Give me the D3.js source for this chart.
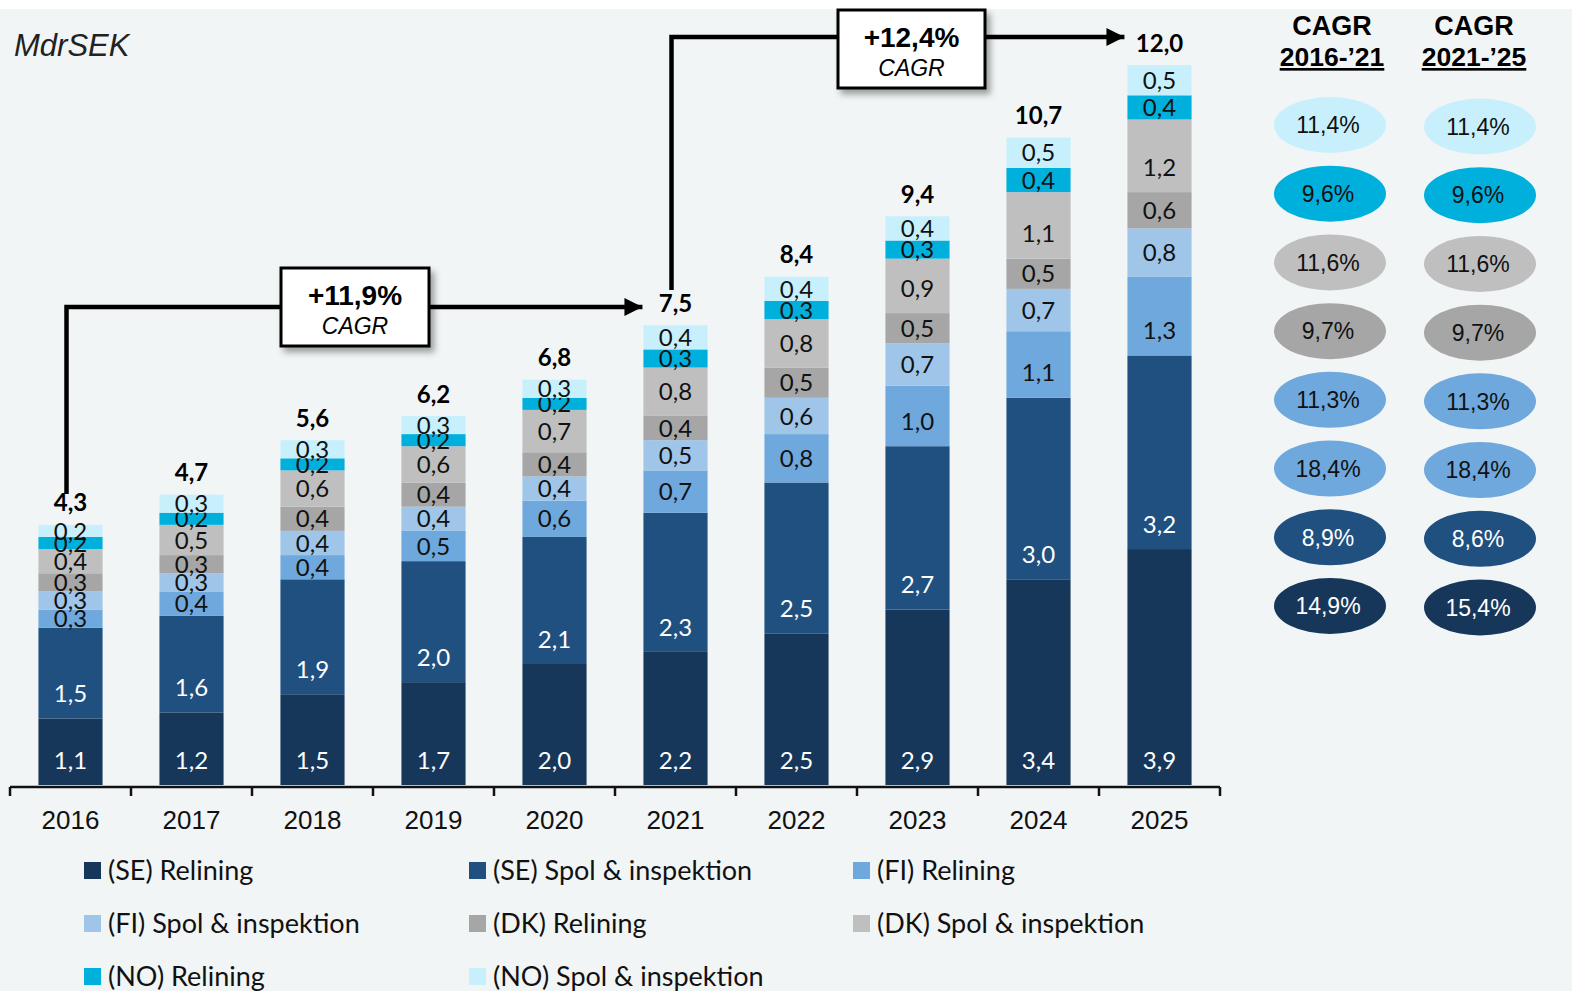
<!DOCTYPE html>
<html>
<head>
<meta charset="utf-8">
<script src="https://cdn.jsdelivr.net/npm/d3@7"></script>
<style>
  body{margin:0;background:#fff;}
  svg{display:block;}
</style>
</head>
<body>
<svg id="chart" width="1572" height="991"></svg>
<script>
// data
let years = ["2016","2017","2018","2019","2020","2021","2022","2023","2024","2025"];
let seriesNames = ["(SE) Relining","(SE) Spol & inspektion","(FI) Relining","(FI) Spol & inspektion",
    "(DK) Relining","(DK) Spol & inspektion","(NO) Relining","(NO) Spol & inspektion"];
let seRelining = [1.1,1.2,1.5,1.7,2.0,2.2,2.5,2.9,3.4,3.9];
let seSpol     = [1.5,1.6,1.9,2.0,2.1,2.3,2.5,2.7,3.0,3.2];
let fiRelining = [0.3,0.4,0.4,0.5,0.6,0.7,0.8,1.0,1.1,1.3];
let fiSpol     = [0.3,0.3,0.4,0.4,0.4,0.5,0.6,0.7,0.7,0.8];
let dkRelining = [0.3,0.3,0.4,0.4,0.4,0.4,0.5,0.5,0.5,0.6];
let dkSpol     = [0.4,0.5,0.6,0.6,0.7,0.8,0.8,0.9,1.1,1.2];
let noRelining = [0.2,0.2,0.2,0.2,0.2,0.3,0.3,0.3,0.4,0.4];
let noSpol     = [0.2,0.3,0.3,0.3,0.3,0.4,0.4,0.4,0.5,0.5];
let totals     = [4.3,4.7,5.6,6.2,6.8,7.5,8.4,9.4,10.7,12.0];
// CAGR bubbles, top to bottom (NO Spol ... SE Relining)
let cagr1621 = ["11,4%","9,6%","11,6%","9,7%","11,3%","18,4%","8,9%","14,9%"];
let cagr2125 = ["11,4%","9,6%","11,6%","9,7%","11,3%","18,4%","8,6%","15,4%"];
let bubbleColors = ["#c8f0fc","#00b0dc","#bfbfbf","#a6a6a6","#6fa8dc","#6fa8dc","#1f5080","#17375a"];
let arrows = [{from:"2016",to:"2021",label:"+11,9%"},{from:"2021",to:"2025",label:"+12,4%"}];

let colors = ["#17375a","#1f5080","#6fa8dc","#9fc5e8","#a6a6a6","#bfbfbf","#00b0dc","#c8f0fc"];
let allSeries = [seRelining,seSpol,fiRelining,fiSpol,dkRelining,dkSpol,noRelining,noSpol];
let fmt = v => v.toFixed(1).replace(".",",");
let arial = "'Liberation Sans', Arial, sans-serif";

let svg = d3.select("#chart");
svg.append("rect").attr("x",0).attr("y",9).attr("width",1572).attr("height",982).attr("fill","#f1f5f6");

let defs = svg.append("defs");
defs.append("filter").attr("id","shadow").attr("x","-20%").attr("y","-20%").attr("width","150%").attr("height","160%")
    .append("feDropShadow").attr("dx",4).attr("dy",5).attr("stdDeviation",3).attr("flood-color","#000").attr("flood-opacity",0.35);
defs.append("marker").attr("id","arrow").attr("viewBox","0 0 10 10").attr("refX",10).attr("refY",5)
    .attr("markerWidth",4).attr("markerHeight",4).attr("markerUnits","strokeWidth").attr("orient","auto")
    .append("path").attr("d","M0,0L10,5L0,10z").attr("fill","#000");

let x = d3.scaleBand().domain(years).range([10,1220]).paddingInner(0.47).paddingOuter(0.235);
let y = d3.scaleLinear().domain([0,12]).range([785,59]);

let table = years.map((yr,i)=>{
    let row = {year:yr};
    seriesNames.forEach((s,k)=>row[s]=allSeries[k][i]);
    return row;
});
let stacked = d3.stack().keys(seriesNames)(table);

let g = svg.append("g");
let layer = g.selectAll(".layer").data(stacked).enter().append("g")
    .attr("class","layer").attr("fill",(d,i)=>colors[i]);
layer.selectAll("rect").data(d=>d).enter().append("rect")
    .attr("x",d=>x(d.data.year))
    .attr("y",d=>y(d[1]))
    .attr("width",x.bandwidth())
    .attr("height",d=>y(d[0])-y(d[1]));
// labels sit near the base of each segment (centered when segment is small)
layer.selectAll("text").data(d=>d).enter().append("text")
    .attr("x",d=>x(d.data.year)+x.bandwidth()/2)
    .attr("y",d=>y(d[0]) - Math.min(25,(y(d[0])-y(d[1]))/2))
    .attr("dy","0.36em")
    .attr("text-anchor","middle")
    .style("font-family","Lato, sans-serif")
    .style("font-size","24px")
    .attr("fill",function(){ return this.parentNode.__data__.index < 2 ? "#fff" : "#111"; })
    .text(d=>fmt(d[1]-d[0]));

// totals
let topStack = stacked[stacked.length-1];
g.selectAll(".total").data(topStack).enter().append("text")
    .attr("class","total")
    .attr("x",d=>x(d.data.year)+x.bandwidth()/2)
    .attr("y",d=>y(d[1])-22)
    .attr("dy","0.36em")
    .attr("text-anchor","middle")
    .style("font-family","Lato, sans-serif")
    .style("font-size","24px")
    .style("font-weight","bold")
    .text((d,i)=>fmt(totals[i]));

// axis
let axis = d3.axisBottom(x).tickSize(0).tickPadding(24);
let ax = g.append("g").attr("transform","translate(0,787)").call(axis);
ax.select(".domain").attr("stroke","#111").attr("stroke-width",2.5).attr("d","M10,0H1220");
ax.selectAll("text").style("font-family",arial).style("font-size","26px").attr("fill","#111");
let step = x.step();
ax.selectAll(".bnd").data(d3.range(years.length+1)).enter().append("line")
    .attr("x1",i=>10+i*step).attr("x2",i=>10+i*step).attr("y1",0).attr("y2",9)
    .attr("stroke","#111").attr("stroke-width",2.5);

// unit label
svg.append("text").attr("x",14).attr("y",56)
    .style("font-family",arial).style("font-size","31px").style("font-style","italic")
    .attr("fill","#222").text("MdrSEK");

// CAGR arrows
let arrowSpecs = [{startY:494,lineY:307,box:[281,268,148,78]},{startY:290,lineY:37,box:[838,10,147,78]}];
arrows.forEach((a,i)=>{
    let s = arrowSpecs[i];
    let x0 = x(a.from)+x.bandwidth()/2-4,
        x1 = a.to==="2025" ? x(a.to)-3 : x(a.to)-1;
    let line = d3.line();
    g.append("path").attr("d",line([[x0,s.startY],[x0,s.lineY],[x1,s.lineY]]))
        .attr("fill","none").attr("stroke","#000").attr("stroke-width",4.5)
        .attr("marker-end","url(#arrow)");
    let [bx,by,bw,bh] = s.box;
    g.append("rect").attr("x",bx).attr("y",by).attr("width",bw).attr("height",bh)
        .attr("fill","#fff").attr("stroke","#000").attr("stroke-width",3).attr("filter","url(#shadow)");
    g.append("text").attr("x",bx+bw/2).attr("y",by+37).attr("text-anchor","middle")
        .style("font-family",arial).style("font-size","28px").style("font-weight","bold")
        .text(a.label);
    g.append("text").attr("x",bx+bw/2).attr("y",by+66).attr("text-anchor","middle")
        .style("font-family",arial).style("font-size","23px").style("font-style","italic")
        .text("CAGR");
});

// CAGR bubbles
let cols = [{cx:1330,hx:1332,head:"2016-\u201921",vals:cagr1621},{cx:1480,hx:1474,head:"2021-\u201925",vals:cagr2125}];
let by = d3.scalePoint().domain(d3.range(8)).range([125,606]);
cols.forEach((c,ci)=>{
    svg.append("text").attr("x",c.hx).attr("y",35).attr("text-anchor","middle")
        .style("font-family",arial).style("font-size","27px").style("font-weight","bold")
        .text("CAGR");
    svg.append("text").attr("x",c.hx).attr("y",66).attr("text-anchor","middle")
        .style("font-family",arial).style("font-size","26.5px").style("font-weight","bold")
        .style("text-decoration","underline")
        .text(c.head);
    let bg = svg.append("g");
    bg.selectAll("ellipse").data(c.vals).enter().append("ellipse")
        .attr("cx",c.cx).attr("cy",(d,i)=>by(i)+ci*1.5).attr("rx",56).attr("ry",28)
        .attr("fill",(d,i)=>bubbleColors[i]);
    bg.selectAll("text").data(c.vals).enter().append("text")
        .attr("x",c.cx-2).attr("y",(d,i)=>by(i)+ci*1.5).attr("dy","0.36em").attr("text-anchor","middle")
        .style("font-family",arial).style("font-size","23px")
        .attr("fill",(d,i)=>i>=6 ? "#fff" : "#111")
        .text(d=>d);
});

// legend
let legendPos = seriesNames.map((s,i)=>({name:s,col:i%3,row:Math.floor(i/3)}));
let lg = svg.append("g").selectAll("g").data(legendPos).enter().append("g")
    .attr("transform",d=>`translate(${[84,469,853][d.col]},${870+d.row*53})`);
lg.append("rect").attr("x",0).attr("y",-8).attr("width",17).attr("height",17).attr("fill",(d,i)=>colors[i]);
lg.append("text").attr("x",24).attr("y",0).attr("dy","0.36em")
    .style("font-family","Lato, sans-serif").style("font-size","27px").attr("fill","#111")
    .text(d=>d.name);
</script>
</body>
</html>
